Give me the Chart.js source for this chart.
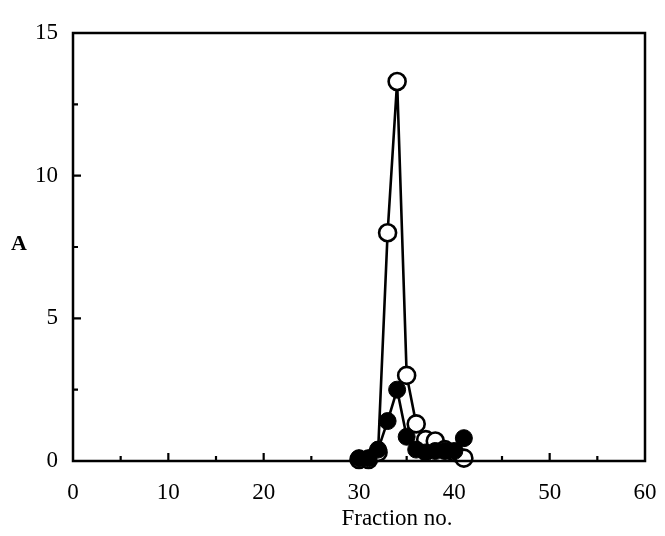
<!DOCTYPE html>
<html>
<head>
<meta charset="utf-8">
<script src="https://cdn.jsdelivr.net/npm/chart.js@4"></script>
<style>
  html, body { margin: 0; padding: 0; background: #fff; }
  #wrap { width: 665px; height: 536px; }
</style>
</head>
<body>
<div id="wrap"><canvas id="fracChart"></canvas></div>
<script>
// fraction numbers and the two absorbance traces
let fractions = [30, 31, 32, 33, 34, 35, 36, 37, 38, 39, 40, 41];
let openA   = [0.05, 0.05, 0.3, 8.0, 13.3, 3.0, 1.3, 0.75, 0.7, 0.4, 0.3, 0.1];
let filledA = [0.1, 0.1, 0.4, 1.4, 2.5, 0.85, 0.4, 0.3, 0.35, 0.35, 0.35, 0.8];
let xTicks = [0, 10, 20, 30, 40, 50, 60];
let yTicks = [0, 5, 10, 15];

const serif = "'Liberation Serif', 'DejaVu Serif', serif";

function toPoints(ys) {
    return fractions.map((x, i) => ({ x: x, y: ys[i] }));
}

// ticks point inward in the original, so draw them ourselves
const inwardTicks = {
    id: 'inwardTicks',
    afterDraw(chart) {
        const c = chart.ctx;
        const xs = chart.scales.x, ys = chart.scales.y;
        const area = chart.chartArea;
        c.save();
        c.strokeStyle = '#000';
        c.lineWidth = 2.2;
        c.beginPath();
        for (let v = 5; v < 60; v += 5) {
            const px = xs.getPixelForValue(v);
            const len = v % 10 == 0 ? 8 : 5;
            c.moveTo(px, area.bottom);
            c.lineTo(px, area.bottom - len);
        }
        for (let v = 2.5; v < 15; v += 2.5) {
            const py = ys.getPixelForValue(v);
            const len = v % 5 == 0 ? 8 : 5;
            c.moveTo(area.left, py);
            c.lineTo(area.left + len, py);
        }
        c.stroke();
        // frame
        c.lineWidth = 2.5;
        c.strokeRect(area.left, area.top, area.right - area.left, area.bottom - area.top);
        c.fillStyle = '#000';
        c.textAlign = 'center';
        c.textBaseline = 'middle';
        // x title sits a bit right of centre in the original
        c.font = "23px " + serif;
        c.fillText('Fraction no.', 397, 519);
        // horizontal "A" label
        c.font = "bold 22px " + serif;
        c.fillText('A', 19, 244);
        c.restore();
    }
};

var ctx = document.getElementById('fracChart');
var chart = new Chart(ctx, {
    type: 'line',
    data: {
        datasets: [
            {
                label: 'filled',
                data: toPoints(filledA),
                borderColor: '#000',
                backgroundColor: '#000',
                borderWidth: 2.6,
                pointRadius: 8.5,
                pointBorderWidth: 1,
                pointBackgroundColor: '#000',
                pointBorderColor: '#000',
                clip: false
            },
            {
                label: 'open',
                data: toPoints(openA),
                borderColor: '#000',
                backgroundColor: '#fff',
                borderWidth: 2.6,
                pointRadius: 8.5,
                pointBorderWidth: 2.6,
                pointBackgroundColor: '#fff',
                pointBorderColor: '#000',
                clip: false
            }
        ]
    },
    options: {
        responsive: true,
        maintainAspectRatio: false,
        animation: false,
        layout: { padding: { top: 33, right: 20, left: 0, bottom: 0 } },
        plugins: {
            legend: { display: false },
            tooltip: { enabled: false }
        },
        scales: {
            x: {
                type: 'linear',
                min: 0,
                max: 60,
                afterBuildTicks: (s) => { s.ticks = xTicks.map(v => ({ value: v })); },
                afterFit: (s) => { s.height = 75; s.paddingLeft = 0; s.paddingRight = 0; },
                grid: { display: false, drawTicks: false },
                border: { display: false },
                ticks: {
                    color: '#000',
                    padding: 18,
                    maxRotation: 0,
                    font: { family: serif, size: 23 }
                }
            },
            y: {
                min: 0,
                max: 15,
                afterBuildTicks: (s) => { s.ticks = yTicks.map(v => ({ value: v })); },
                afterFit: (s) => { s.width = 73; s.paddingTop = 0; s.paddingBottom = 0; },
                grid: { display: false, drawTicks: false },
                border: { display: false },
                ticks: {
                    color: '#000',
                    padding: 15,
                    font: { family: serif, size: 23 }
                }
            }
        }
    },
    plugins: [inwardTicks]
});
</script>
</body>
</html>
